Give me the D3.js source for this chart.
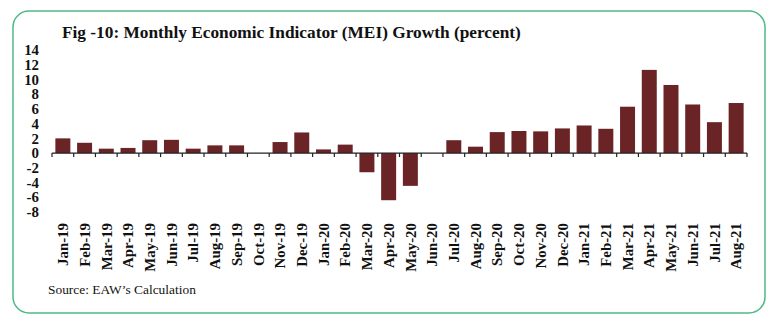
<!DOCTYPE html>
<html>
<head>
<meta charset="utf-8">
<script src="https://cdn.jsdelivr.net/npm/d3@7"></script>
<style>
html,body{margin:0;padding:0;background:#fff;}
svg{display:block;}
</style>
</head>
<body>
<svg id="chart" width="778" height="323"></svg>
<script>
const categories = ["Jan-19","Feb-19","Mar-19","Apr-19","May-19","Jun-19","Jul-19","Aug-19","Sep-19","Oct-19","Nov-19","Dec-19",
  "Jan-20","Feb-20","Mar-20","Apr-20","May-20","Jun-20","Jul-20","Aug-20","Sep-20","Oct-20","Nov-20","Dec-20",
  "Jan-21","Feb-21","Mar-21","Apr-21","May-21","Jun-21","Jul-21","Aug-21"];
const values = [2.0,1.4,0.6,0.7,1.75,1.8,0.6,1.05,1.05,0.0,1.5,2.8,
  0.5,1.15,-2.6,-6.4,-4.45,0.0,1.75,0.87,2.85,3.0,2.95,3.35,
  3.75,3.3,6.3,11.3,9.25,6.6,4.2,6.8];
const yTicks = [-8,-6,-4,-2,0,2,4,6,8,10,12,14];
const title = "Fig -10: Monthly Economic Indicator (MEI) Growth (percent)";
const source = "Source: EAW\u2019s Calculation";

const svg = d3.select("#chart");
const serif = "'Liberation Serif', 'DejaVu Serif', serif";

// fit font size so a text reaches a target width
function fitSize(sel, target){
  const n = sel.node();
  const fs = parseFloat(sel.attr("font-size"));
  const w = n.getComputedTextLength();
  if (w > 0) sel.attr("font-size", fs*target/w);
  return parseFloat(sel.attr("font-size"));
}

svg.append("rect")
  .attr("x",13).attr("y",11).attr("width",752).attr("height",302)
  .attr("rx",16).attr("ry",16)
  .attr("fill","#fff").attr("stroke","#4cbb85").attr("stroke-width",1.5);

const t = svg.append("text")
  .attr("x",62).attr("y",38)
  .attr("font-family",serif).attr("font-weight","bold").attr("font-size",17)
  .attr("fill","#111").text(title);
fitSize(t, 459);

const x = d3.scaleBand().domain(categories).range([52,747]).paddingInner(0.31).paddingOuter(0.155);
const y = d3.scaleLinear().domain([-8,14]).range([212,50]);

// measure label size
const probe = svg.append("text").attr("font-family",serif).attr("font-weight","bold").attr("font-size",14).text("Jan-19");
const lblSize = fitSize(probe, 43);
probe.remove();

// y tick labels (no axis line)
svg.append("g").selectAll("text").data(yTicks).join("text")
  .attr("x",39).attr("y",d=>y(d)).attr("dy","0.35em")
  .attr("text-anchor","end")
  .attr("font-family",serif).attr("font-weight","bold").attr("font-size",lblSize)
  .attr("fill","#111").text(d=>d);

// bars
svg.append("g").selectAll("rect").data(values).join("rect")
  .attr("x",(d,i)=>x(categories[i]))
  .attr("width",x.bandwidth())
  .attr("y",d=>y(Math.max(0,d)))
  .attr("height",d=>Math.abs(y(d)-y(0)))
  .attr("fill","#6b2426");

// x axis line and ticks at band boundaries
const xAxis = d3.axisBottom(x).tickSize(0).tickFormat("");
const gx = svg.append("g").attr("transform",`translate(0,${y(0)})`).call(xAxis);
gx.select(".domain").attr("stroke","#222").attr("stroke-width",1.3).attr("d","M52,0H747");
const bounds = d3.range(categories.length+1).map(i=>52+i*((747-52)/categories.length));
gx.selectAll("line.tk").data(bounds).join("line").attr("class","tk")
  .attr("x1",d=>d).attr("x2",d=>d).attr("y1",0).attr("y2",4)
  .attr("stroke","#222").attr("stroke-width",1.2);

// x labels rotated
svg.append("g").selectAll("text").data(categories).join("text")
  .attr("transform",d=>`translate(${x(d)+x.bandwidth()/2},223) rotate(-90)`)
  .attr("dy","0.35em")
  .attr("text-anchor","end")
  .attr("font-family",serif).attr("font-weight","bold").attr("font-size",lblSize)
  .attr("fill","#111").text(d=>d);

const s = svg.append("text")
  .attr("x",48).attr("y",294)
  .attr("font-family",serif).attr("font-size",13)
  .attr("fill","#111").text(source);
fitSize(s, 148);
</script>
</body>
</html>
